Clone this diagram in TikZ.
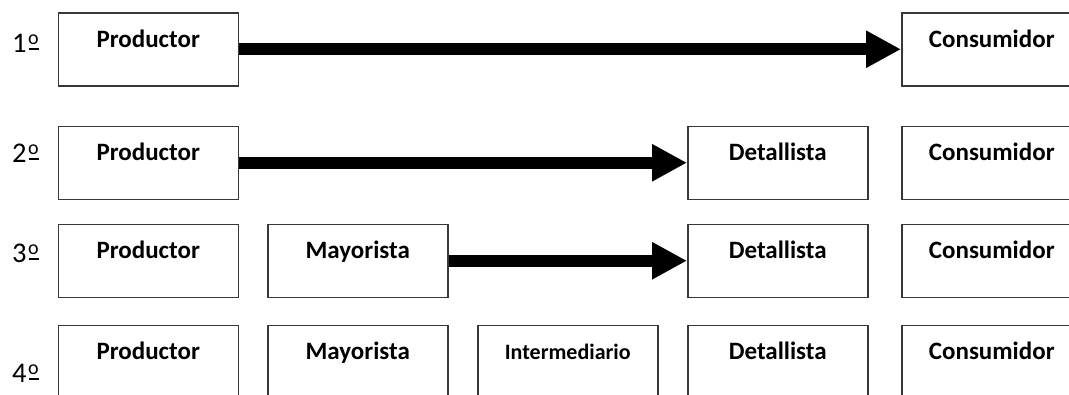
\documentclass[tikz,border=0pt]{standalone}
\usepackage{fontspec}
\setmainfont{Carlito}
\usetikzlibrary{arrows.meta}
% ordinal mark drawn as a raised o over a short bar
\newcommand\ordo{\kern1.5pt\raisebox{8pt}{\fontsize{20}{20}\selectfont o}\llap{\rule[2.2pt]{9.5pt}{1.7pt}}}
\begin{document}
\begin{tikzpicture}[x=1pt,y=-1pt,
  box/.style={draw=black!78, line width=1.5pt, rectangle, inner xsep=0pt, inner ysep=0pt,
    minimum width=180pt, text height=34.5pt, text depth=38.5pt,
    font=\fontsize{25}{29}\selectfont\bfseries, anchor=north west},
  rowlabel/.style={inner sep=0pt, anchor=base west, font=\fontsize{28.5}{32}\selectfont},
  flow/.style={line width=12pt, -{Triangle[length=35pt,width=35pt]}}]
\useasboundingbox (0,0) rectangle (1069,394);
\fill[white] (0,0) rectangle (1069,394);
\clip (0,0) rectangle (1069,394);

% channel 1: direct
\node[rowlabel] (l1) at (12,52) {1\ordo};
\node[box] (p1) at (57.5,12) {Productor};
\node[box] (c1) at (901,12) {Consumidor};

% channel 2: through the retailer
\node[rowlabel] (l2) at (12,162) {2\ordo};
\node[box] (p2) at (57.5,125.5) {Productor};
\node[box] (d2) at (687,125.5) {Detallista};
\node[box] (c2) at (901,125.5) {Consumidor};

% channel 3: wholesaler and retailer
\node[rowlabel] (l3) at (12,262) {3\ordo};
\node[box] (p3) at (57.5,223.5) {Productor};
\node[box] (m3) at (267,223.5) {Mayorista};
\node[box] (d3) at (687,223.5) {Detallista};
\node[box] (c3) at (901,223.5) {Consumidor};

% channel 4: all intermediaries
\node[rowlabel] (l4) at (12,382) {4\ordo};
\node[box] (p4) at (57.5,324.5) {Productor};
\node[box] (m4) at (267,324.5) {Mayorista};
\node[box, font=\fontsize{22}{26}\selectfont\bfseries] (i4) at (477,324.5) {Intermediario};
\node[box] (d4) at (687,324.5) {Detallista};
\node[box] (c4) at (901,324.5) {Consumidor};

% flows
\draw[flow] (p1.east) -- (c1.west);
\draw[flow] (p2.east) -- (d2.west);
\draw[flow] (m3.east) -- (d3.west);
\end{tikzpicture}
\end{document}
